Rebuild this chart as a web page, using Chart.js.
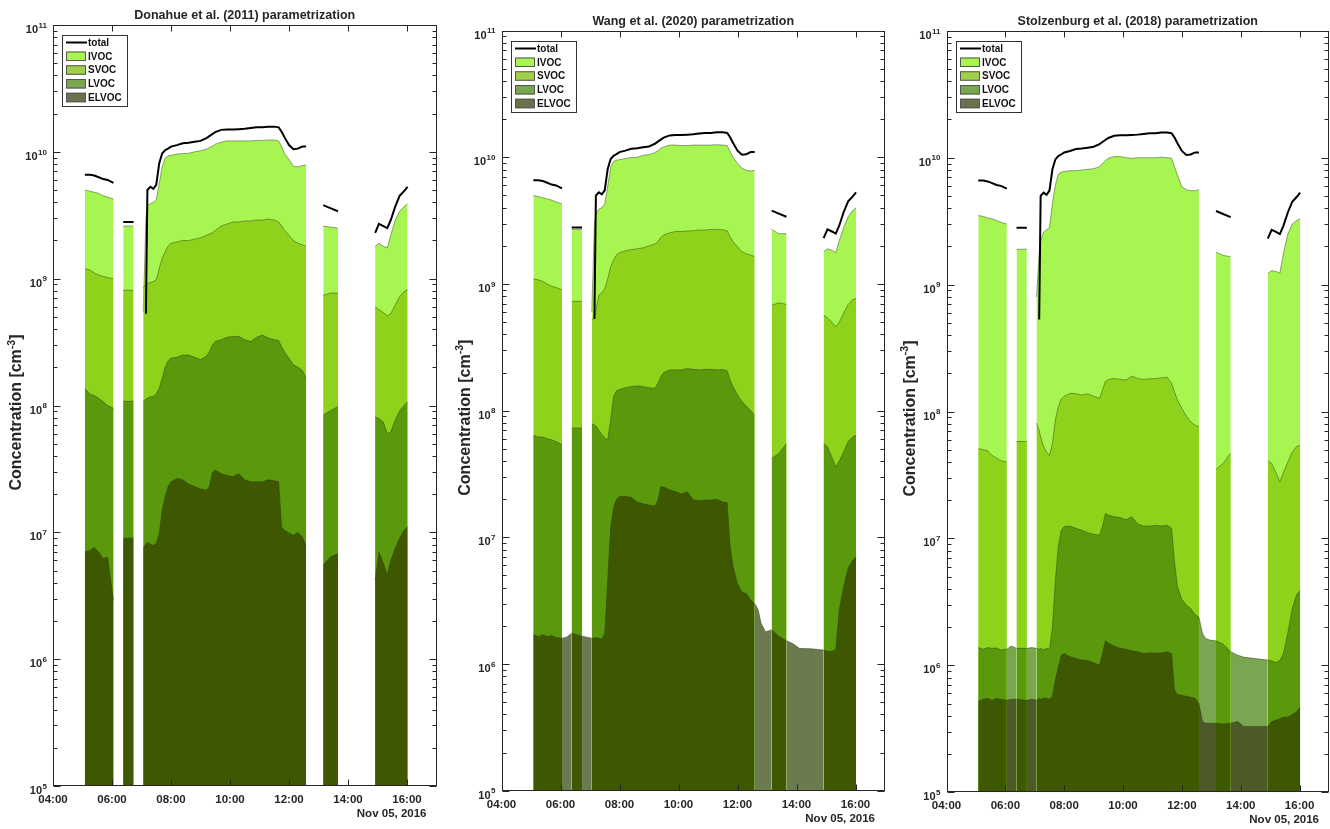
<!DOCTYPE html>
<html>
<head>
<meta charset="utf-8">
<title>VOC volatility classes, Nov 05, 2016</title>
<script src="https://cdn.jsdelivr.net/npm/chart.js@4.4.1/dist/chart.umd.min.js"></script>
<style>
  body { margin: 0; background: #fff; }
  #wrap { position: relative; width: 1330px; height: 829px; overflow: hidden; background: #fff; }
  canvas { position: absolute; top: 0; }
</style>
</head>
<body>
<div id="wrap">
  <canvas id="c1" width="450" height="829" style="left:0"></canvas>
  <canvas id="c2" width="445" height="829" style="left:450px"></canvas>
  <canvas id="c3" width="435" height="829" style="left:895px"></canvas>
</div>
<script>
// time of day (decimal hours) of every sample; null values below mark gaps
const hours = [
  5.08, 5.25, 5.4, 5.55, 5.7, 5.85, 6.05,
  6.2,
  6.38, 6.73,
  6.9,
  7.06, 7.15, 7.2, 7.3, 7.4, 7.5, 7.6, 7.7, 7.8, 7.9,
  8.0, 8.2, 8.4, 8.6, 8.8, 9.0, 9.2, 9.3, 9.4, 9.5,
  9.7, 9.9, 10.1, 10.3, 10.5, 10.7, 10.9, 11.1, 11.3, 11.5,
  11.65, 11.75, 11.85, 12.0, 12.15, 12.3, 12.45, 12.58,
  12.7, 12.8, 12.95,
  13.16, 13.4, 13.66,
  13.9, 14.1, 14.5,
  14.92, 15.05, 15.2, 15.33, 15.45, 15.6, 15.75, 15.9, 16.02
];
const xTicks = [4, 6, 8, 10, 12, 14, 16];
const yDecades = [5, 6, 7, 8, 9, 10, 11];
const dateLabel = 'Nov 05, 2016';
const titles = [
  'Donahue et al. (2011) parametrization',
  'Wang et al. (2020) parametrization',
  'Stolzenburg et al. (2018) parametrization'
];

// measured total, same in every panel [cm^-3]
const total = [
  6.6e9, 6.6e9, 6.5e9, 6.3e9, 6.1e9, 6.0e9, 5.7e9,
  null,
  2.8e9, 2.8e9,
  null,
  null, 5.3e8, 5.0e9, 5.3e9, 5.1e9, 5.5e9, 8.1e9, 9.7e9, 1.03e10, 1.06e10,
  1.10e10, 1.13e10, 1.17e10, 1.18e10, 1.20e10, 1.22e10, 1.28e10, 1.33e10, 1.38e10, 1.43e10,
  1.49e10, 1.50e10, 1.50e10, 1.51e10, 1.52e10, 1.54e10, 1.56e10, 1.56e10, 1.58e10, 1.58e10,
  1.56e10, 1.44e10, 1.30e10, 1.13e10, 1.05e10, 1.06e10, 1.10e10, 1.10e10,
  null, null, null,
  3.8e9, 3.6e9, 3.4e9,
  null, null, null,
  2.3e9, 2.7e9, 2.6e9, 2.5e9, 2.9e9, 3.7e9, 4.5e9, 4.9e9, 5.3e9
];

// Donahue et al. (2011)
const donahueIVOC = [
  5.0e9, 4.9e9, 4.8e9, 4.7e9, 4.5e9, 4.4e9, 4.25e9,
  null,
  2.6e9, 2.6e9,
  null,
  5.5e8, 3.0e9, 3.8e9, 3.9e9, 4.0e9, 4.2e9, 5.6e9, 7.6e9, 8.9e9, 9.3e9,
  9.4e9, 9.6e9, 9.7e9, 9.75e9, 1.0e10, 1.02e10, 1.05e10, 1.08e10, 1.11e10, 1.15e10,
  1.19e10, 1.22e10, 1.22e10, 1.22e10, 1.22e10, 1.22e10, 1.23e10, 1.23e10, 1.24e10, 1.24e10,
  1.22e10, 1.10e10, 9.7e9, 8.7e9, 7.7e9, 7.6e9, 7.8e9, 7.9e9,
  null, null, null,
  2.6e9, 2.55e9, 2.5e9,
  null, null, null,
  1.8e9, 1.9e9, 1.8e9, 1.75e9, 2.2e9, 2.9e9, 3.4e9, 3.7e9, 3.9e9
];
const donahueSVOC = [
  1.2e9, 1.17e9, 1.11e9, 1.07e9, 1.04e9, 1.02e9, 1.0e9,
  null,
  8.1e8, 8.1e8,
  null,
  8.5e8, 9.0e8, 9.2e8, 9.3e8, 9.5e8, 9.8e8, 1.2e9, 1.45e9, 1.63e9, 1.8e9,
  1.9e9, 1.95e9, 2.0e9, 2.0e9, 2.05e9, 2.1e9, 2.2e9, 2.25e9, 2.3e9, 2.4e9,
  2.6e9, 2.7e9, 2.8e9, 2.8e9, 2.85e9, 2.85e9, 2.9e9, 2.9e9, 2.95e9, 2.9e9,
  2.8e9, 2.6e9, 2.4e9, 2.2e9, 2.0e9, 1.9e9, 1.85e9, 1.8e9,
  null, null, null,
  7.4e8, 7.7e8, 7.7e8,
  null, null, null,
  6.0e8, 5.7e8, 5.4e8, 5.1e8, 5.3e8, 6.2e8, 7.2e8, 7.9e8, 8.2e8
];
const donahueLVOC = [
  1.36e8, 1.23e8, 1.2e8, 1.14e8, 1.07e8, 1.0e8, 9.5e7,
  null,
  1.08e8, 1.08e8,
  null,
  1.08e8, 1.12e8, 1.14e8, 1.17e8, 1.18e8, 1.24e8, 1.36e8, 1.64e8, 2.0e8, 2.25e8,
  2.37e8, 2.4e8, 2.5e8, 2.5e8, 2.4e8, 2.3e8, 2.45e8, 2.65e8, 3.0e8, 3.2e8,
  3.3e8, 3.45e8, 3.5e8, 3.5e8, 3.3e8, 3.2e8, 3.45e8, 3.6e8, 3.4e8, 3.3e8,
  3.25e8, 2.9e8, 2.65e8, 2.35e8, 2.1e8, 2.0e8, 1.9e8, 1.64e8,
  null, null, null,
  8.4e7, 9.1e7, 9.8e7,
  null, null, null,
  8.1e7, 7.9e7, 7.4e7, 6.0e7, 6.2e7, 7.7e7, 9.1e7, 1.0e8, 1.07e8
];
const donahueELVOC = [
  7.0e6, 7.2e6, 7.6e6, 7.0e6, 6.2e6, 6.4e6, 2.9e6,
  null,
  9.0e6, 9.0e6,
  null,
  7.5e6, 8.1e6, 8.3e6, 8.1e6, 7.9e6, 8.2e6, 9.8e6, 1.5e7, 1.9e7, 2.3e7,
  2.5e7, 2.66e7, 2.6e7, 2.4e7, 2.3e7, 2.2e7, 2.15e7, 2.3e7, 2.95e7, 3.1e7,
  2.9e7, 2.8e7, 2.75e7, 2.9e7, 2.6e7, 2.5e7, 2.5e7, 2.5e7, 2.6e7, 2.55e7,
  2.5e7, 1.1e7, 1.04e7, 9.9e6, 9.5e6, 1.0e7, 9.2e6, 7.9e6,
  null, null, null,
  5.5e6, 6.4e6, 6.8e6,
  null, null, null,
  4.2e6, 7.0e6, 5.7e6, 4.6e6, 6.0e6, 7.5e6, 9.0e6, 1.04e7, 1.1e7
];

// Wang et al. (2020)
const wangIVOC = [
  5.0e9, 4.9e9, 4.8e9, 4.7e9, 4.6e9, 4.45e9, 4.3e9,
  null,
  2.7e9, 2.7e9,
  null,
  6.0e8, 3.0e9, 3.6e9, 3.9e9, 4.0e9, 4.3e9, 5.9e9, 8.4e9, 9.3e9, 9.5e9,
  9.6e9, 9.8e9, 1.0e10, 1.0e10, 1.04e10, 1.05e10, 1.09e10, 1.13e10, 1.18e10, 1.21e10,
  1.25e10, 1.25e10, 1.24e10, 1.24e10, 1.25e10, 1.25e10, 1.25e10, 1.25e10, 1.26e10, 1.25e10,
  1.24e10, 1.11e10, 1.0e10, 9.0e9, 8.2e9, 7.9e9, 7.8e9, 7.9e9,
  null, null, null,
  2.7e9, 2.5e9, 2.5e9,
  null, null, null,
  1.8e9, 1.9e9, 1.85e9, 1.77e9, 2.2e9, 2.8e9, 3.4e9, 3.8e9, 4.0e9
];
const wangSVOC = [
  1.1e9, 1.08e9, 1.05e9, 1.0e9, 9.6e8, 9.4e8, 9.0e8,
  null,
  7.3e8, 7.3e8,
  null,
  5.2e8, 5.5e8, 6.2e8, 8.2e8, 8.5e8, 9.2e8, 1.1e9, 1.37e9, 1.55e9, 1.7e9,
  1.77e9, 1.83e9, 1.87e9, 1.9e9, 1.93e9, 2.0e9, 2.07e9, 2.16e9, 2.34e9, 2.44e9,
  2.54e9, 2.6e9, 2.6e9, 2.62e9, 2.64e9, 2.67e9, 2.67e9, 2.7e9, 2.7e9, 2.68e9,
  2.63e9, 2.37e9, 2.16e9, 1.97e9, 1.8e9, 1.73e9, 1.69e9, 1.65e9,
  null, null, null,
  6.8e8, 7.1e8, 6.9e8,
  null, null, null,
  5.7e8, 5.4e8, 5.0e8, 4.6e8, 5.0e8, 5.9e8, 6.9e8, 7.5e8, 7.7e8
];
const wangLVOC = [
  6.4e7, 6.2e7, 6.2e7, 6.0e7, 5.9e7, 5.7e7, 5.4e7,
  null,
  7.3e7, 7.3e7,
  null,
  7.9e7, 7.7e7, 7.6e7, 7.0e7, 6.5e7, 6.1e7, 5.9e7, 8.4e7, 1.3e8, 1.44e8,
  1.47e8, 1.52e8, 1.55e8, 1.57e8, 1.55e8, 1.52e8, 1.5e8, 1.64e8, 1.85e8, 2.0e8,
  2.1e8, 2.1e8, 2.1e8, 2.15e8, 2.12e8, 2.1e8, 2.12e8, 2.12e8, 2.1e8, 2.11e8,
  2.07e8, 1.75e8, 1.55e8, 1.33e8, 1.18e8, 1.09e8, 1.0e8, 9.2e7,
  null, null, null,
  4.2e7, 4.6e7, 5.5e7,
  null, null, null,
  5.5e7, 5.2e7, 4.3e7, 3.6e7, 4.0e7, 4.75e7, 5.7e7, 6.2e7, 6.4e7
];
const wangELVOC = [
  1.7e6, 1.65e6, 1.7e6, 1.65e6, 1.68e6, 1.62e6, 1.6e6,
  1.63e6,
  1.75e6, 1.66e6,
  1.63e6,
  1.6e6, 1.6e6, 1.62e6, 1.6e6, 1.57e6, 1.75e6, 4.6e6, 1.2e7, 1.73e7, 2.0e7,
  2.1e7, 2.1e7, 2.07e7, 1.9e7, 1.84e7, 1.8e7, 1.77e7, 1.97e7, 2.5e7, 2.5e7,
  2.37e7, 2.3e7, 2.2e7, 2.3e7, 1.97e7, 1.95e7, 1.97e7, 1.97e7, 2.0e7, 1.9e7,
  1.88e7, 8.5e6, 5.9e6, 4.3e6, 3.7e6, 3.6e6, 3.2e6, 3.0e6,
  2.7e6, 2.1e6, 1.8e6,
  1.86e6, 1.66e6, 1.53e6,
  1.44e6, 1.33e6, 1.32e6,
  1.29e6, 1.26e6, 1.26e6, 1.3e6, 2.7e6, 4.1e6, 5.7e6, 6.6e6, 7.0e6
];

// Stolzenburg et al. (2018)
const stolzIVOC = [
  3.5e9, 3.45e9, 3.35e9, 3.3e9, 3.2e9, 3.1e9, 3.0e9,
  null,
  1.9e9, 1.9e9,
  null,
  8.0e8, 1.76e9, 2.2e9, 2.6e9, 2.7e9, 2.8e9, 4.4e9, 6.1e9, 7.4e9, 7.7e9,
  7.8e9, 7.9e9, 7.9e9, 8.0e9, 8.1e9, 8.2e9, 8.5e9, 9.0e9, 9.5e9, 9.9e9,
  1.02e10, 1.02e10, 1.0e10, 9.9e9, 1.0e10, 1.0e10, 1.0e10, 1.0e10, 1.01e10, 1.0e10,
  9.9e9, 8.5e9, 7.3e9, 5.9e9, 5.6e9, 5.5e9, 5.5e9, 5.6e9,
  null, null, null,
  1.8e9, 1.7e9, 1.66e9,
  null, null, null,
  1.23e9, 1.29e9, 1.27e9, 1.23e9, 1.76e9, 2.5e9, 3.0e9, 3.2e9, 3.3e9
];
const stolzSVOC = [
  5.1e7, 5.0e7, 4.9e7, 4.5e7, 4.3e7, 4.1e7, 4.0e7,
  null,
  5.8e7, 5.8e7,
  null,
  8.1e7, 7.1e7, 6.3e7, 5.3e7, 4.8e7, 4.5e7, 5.6e7, 8.6e7, 1.09e8, 1.25e8,
  1.32e8, 1.39e8, 1.38e8, 1.35e8, 1.38e8, 1.32e8, 1.27e8, 1.48e8, 1.72e8, 1.79e8,
  1.82e8, 1.79e8, 1.77e8, 1.9e8, 1.82e8, 1.79e8, 1.81e8, 1.82e8, 1.84e8, 1.86e8,
  1.67e8, 1.43e8, 1.23e8, 1.06e8, 9.2e7, 8.3e7, 7.8e7, 7.6e7,
  null, null, null,
  3.5e7, 3.9e7, 4.7e7,
  null, null, null,
  4.1e7, 3.9e7, 3.3e7, 2.8e7, 3.3e7, 4.0e7, 4.8e7, 5.3e7, 5.4e7
];
const stolzLVOC = [
  1.38e6, 1.34e6, 1.38e6, 1.36e6, 1.37e6, 1.32e6, 1.34e6,
  1.42e6,
  1.36e6, 1.36e6,
  1.38e6,
  1.36e6, 1.34e6, 1.36e6, 1.32e6, 1.36e6, 1.34e6, 2.0e6, 4.7e6, 8.6e6, 1.16e7,
  1.24e7, 1.25e7, 1.2e7, 1.16e7, 1.11e7, 1.08e7, 1.06e7, 1.24e7, 1.57e7, 1.53e7,
  1.48e7, 1.46e7, 1.4e7, 1.48e7, 1.3e7, 1.25e7, 1.25e7, 1.27e7, 1.25e7, 1.27e7,
  1.2e7, 6.4e6, 4.2e6, 3.3e6, 3.0e6, 2.8e6, 2.5e6, 2.4e6,
  1.79e6, 1.63e6, 1.58e6,
  1.56e6, 1.47e6, 1.28e6,
  1.2e6, 1.16e6, 1.13e6,
  1.1e6, 1.08e6, 1.05e6, 1.09e6, 1.24e6, 1.79e6, 2.8e6, 3.6e6, 3.9e6
];
const stolzELVOC = [
  5.2e5, 5.4e5, 5.5e5, 5.3e5, 5.5e5, 5.4e5, 5.3e5,
  5.4e5,
  5.4e5, 5.3e5,
  5.4e5,
  5.3e5, 5.5e5, 5.4e5, 5.5e5, 5.5e5, 5.4e5, 5.7e5, 7.7e5, 9.7e5, 1.2e6,
  1.24e6, 1.17e6, 1.13e6, 1.1e6, 1.09e6, 1.05e6, 1.0e6, 1.24e6, 1.56e6, 1.5e6,
  1.42e6, 1.36e6, 1.34e6, 1.3e6, 1.28e6, 1.24e6, 1.25e6, 1.25e6, 1.25e6, 1.28e6,
  1.24e6, 6.4e5, 5.9e5, 5.8e5, 5.7e5, 5.6e5, 5.5e5, 5.0e5,
  3.6e5, 3.5e5, 3.5e5,
  3.5e5, 3.45e5, 3.5e5,
  3.6e5, 3.3e5, 3.3e5,
  3.3e5, 3.6e5, 3.7e5, 3.8e5, 3.9e5, 3.9e5, 4.1e5, 4.3e5, 4.7e5
];

const FONT = "'Liberation Sans', Arial, Helvetica, sans-serif";
const AXIS = '#262626';
// colours as they show where the layers overlap
const fills = { IVOC: '#a6f550', SVOC: '#8ed21b', LVOC: '#5a990c', ELVOC: '#3d5801' };
// legend swatches (single layer on white)
const swatches = { IVOC: '#a8f552', SVOC: '#a2cf4a', LVOC: '#79a64e', ELVOC: '#6b714a' };
const order = { total: 0, ELVOC: 1, LVOC: 2, SVOC: 3, IVOC: 4 };

function clock(h) {
  return String(h).padStart(2, '0') + ':00';
}

// area filled down to the axis; parts lying in the gaps of the reference
// series get the lighter gap colour
function area(label, values, ref, gapColor) {
  return {
    label,
    data: hours.map((h, i) => ({ x: h, y: values[i] })),
    fill: 'start',
    backgroundColor: fills[label],
    borderColor: 'rgba(45,55,25,0.45)',
    borderWidth: 1,
    pointRadius: 0,
    tension: 0,
    spanGaps: false,
    order: order[label],
    segment: gapColor ? {
      backgroundColor: c => (ref[c.p0DataIndex] == null || ref[c.p1DataIndex] == null) ? gapColor : undefined
    } : {}
  };
}

const frame = {
  id: 'frame',
  afterDraw(chart, args, o) {
    const { ctx, chartArea: a, scales: { x, y } } = chart;
    ctx.save();
    ctx.strokeStyle = AXIS;
    ctx.fillStyle = AXIS;
    ctx.lineWidth = 1;
    const L = Math.round(a.left) + 0.5, R = Math.round(a.right) - 0.5;
    const T = Math.round(a.top) + 0.5, B = Math.round(a.bottom) - 0.5;

    ctx.beginPath();
    xTicks.forEach(h => {
      const px = Math.round(x.getPixelForValue(h)) + 0.5;
      ctx.moveTo(px, B); ctx.lineTo(px, B - 6);
      ctx.moveTo(px, T); ctx.lineTo(px, T + 6);
    });
    yDecades.forEach(e => {
      for (let m = 1; m <= 9; m++) {
        if (e === 11 && m > 1) break;
        const py = Math.round(y.getPixelForValue(m * Math.pow(10, e))) + 0.5;
        const len = m === 1 ? 7 : 4;
        ctx.moveTo(L, py); ctx.lineTo(L + len, py);
        ctx.moveTo(R, py); ctx.lineTo(R - len, py);
      }
    });
    ctx.stroke();
    ctx.strokeRect(L, T, R - L, B - T);

    // x tick labels and date
    ctx.font = `bold 11.5px ${FONT}`;
    ctx.textAlign = 'center';
    ctx.textBaseline = 'middle';
    xTicks.forEach(h => ctx.fillText(clock(h), x.getPixelForValue(h), a.bottom + 14));
    ctx.textAlign = 'right';
    ctx.fillText(dateLabel, a.right - 10, a.bottom + 28);

    // y tick labels 10^n
    yDecades.forEach(e => {
      const py = y.getPixelForValue(Math.pow(10, e));
      ctx.font = `bold 8px ${FONT}`;
      const ew = ctx.measureText(String(e)).width;
      ctx.fillText(String(e), a.left - 6, py + 0.5);
      ctx.font = `bold 11px ${FONT}`;
      ctx.fillText('10', a.left - 6 - ew - 0.5, py + 5);
    });

    // y axis title with superscript
    ctx.save();
    ctx.translate(a.left - 36, (a.top + a.bottom) / 2 + 7);
    ctx.rotate(-Math.PI / 2);
    const head = 'Concentration [cm', sup = '-3', tail = ']';
    ctx.font = `bold 16px ${FONT}`;
    const wh = ctx.measureText(head).width, wt = ctx.measureText(tail).width;
    ctx.font = `bold 10.5px ${FONT}`;
    const ws = ctx.measureText(sup).width;
    const x0 = -(wh + ws + wt) / 2;
    ctx.textAlign = 'left';
    ctx.font = `bold 16px ${FONT}`;
    ctx.fillText(head, x0, 0);
    ctx.font = `bold 10.5px ${FONT}`;
    ctx.fillText(sup, x0 + wh, -5);
    ctx.font = `bold 16px ${FONT}`;
    ctx.fillText(tail, x0 + wh + ws, 0);
    ctx.restore();

    // title
    ctx.font = `bold 12.5px ${FONT}`;
    ctx.textAlign = 'center';
    ctx.fillText(o.title, (a.left + a.right) / 2, a.top - 9);

    // legend box
    const lx = Math.round(a.left) + 9, ly = Math.round(a.top) + 10;
    ctx.fillStyle = '#fff';
    ctx.fillRect(lx, ly, 65, 71);
    ctx.strokeStyle = '#333';
    ctx.strokeRect(lx + 0.5, ly + 0.5, 65, 71);
    ctx.font = `bold 10px ${FONT}`;
    ctx.textAlign = 'left';
    chart.data.datasets.forEach((ds, i) => {
      const cy = ly + 7.5 + i * 13.75;
      if (ds.fill) {
        ctx.fillStyle = swatches[ds.label];
        ctx.fillRect(lx + 4, cy - 4.75, 20, 9.5);
        ctx.strokeStyle = '#555';
        ctx.strokeRect(lx + 4.5, cy - 4.25, 19, 8.5);
      } else {
        ctx.strokeStyle = '#000';
        ctx.lineWidth = 2;
        ctx.beginPath(); ctx.moveTo(lx + 4, cy); ctx.lineTo(lx + 25, cy); ctx.stroke();
        ctx.lineWidth = 1;
      }
      ctx.fillStyle = '#111';
      ctx.fillText(ds.label, lx + 26, cy + 0.5);
    });
    ctx.restore();
  }
};

const panels = [
  { id: 'c1', title: titles[0], pad: { left: 53, right: 13.5, top: 25, bottom: 43 },
    series: [donahueIVOC, donahueSVOC, donahueLVOC, donahueELVOC], gap: {} },
  { id: 'c2', title: titles[1], pad: { left: 51.5, right: 10, top: 30.7, bottom: 38.3 },
    series: [wangIVOC, wangSVOC, wangLVOC, wangELVOC], gap: { ELVOC: '#6c7a50' } },
  { id: 'c3', title: titles[2], pad: { left: 51.5, right: 1, top: 30.8, bottom: 36.8 },
    series: [stolzIVOC, stolzSVOC, stolzLVOC, stolzELVOC], gap: { LVOC: '#7ba651', ELVOC: '#4b5a27' } }
];

panels.forEach(p => {
  const [iv, sv, lv, el] = p.series;
  new Chart(document.getElementById(p.id), {
    type: 'line',
    data: {
      datasets: [
        {
          label: 'total',
          data: hours.map((h, i) => ({ x: h, y: total[i] })),
          borderColor: '#000',
          borderWidth: 2,
          pointRadius: 0,
          tension: 0,
          fill: false,
          spanGaps: false,
          order: order.total
        },
        area('IVOC', iv, iv, p.gap.IVOC),
        area('SVOC', sv, iv, p.gap.SVOC),
        area('LVOC', lv, iv, p.gap.LVOC),
        area('ELVOC', el, iv, p.gap.ELVOC)
      ]
    },
    options: {
      responsive: false,
      animation: false,
      layout: { padding: p.pad },
      scales: {
        x: { type: 'linear', min: 4, max: 17, display: false },
        y: { type: 'logarithmic', min: 1e5, max: 1e11, display: false }
      },
      plugins: {
        legend: { display: false },
        tooltip: { enabled: false },
        frame: { title: p.title }
      }
    },
    plugins: [frame]
  });
});
</script>
</body>
</html>
